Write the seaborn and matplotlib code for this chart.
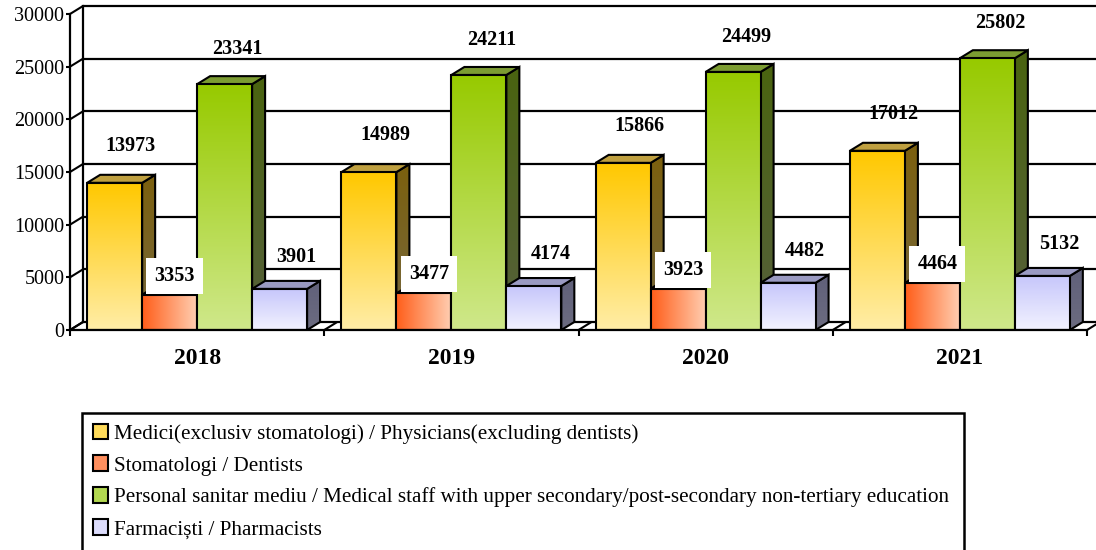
import numpy as np
import pandas as pd
import matplotlib
matplotlib.use("Agg")
import matplotlib.pyplot as plt
import matplotlib.colors as mcolors
from matplotlib.patches import Polygon, Patch, Rectangle
import seaborn as sns

# date
years = ["2018", "2019", "2020", "2021"]
series = [
    "Medici(exclusiv stomatologi) / Physicians(excluding dentists)",
    "Stomatologi / Dentists",
    "Personal sanitar mediu / Medical staff with upper secondary/post-secondary non-tertiary education",
    "Farmaciști / Pharmacists",
]
physicians = [13973, 14989, 15866, 17012]
dentists = [3353, 3477, 3923, 4464]
medical_staff = [23341, 24211, 24499, 25802]
pharmacists = [3901, 4174, 4482, 5132]
yticks = [0, 5000, 10000, 15000, 20000, 25000, 30000]

# stil pe serie: fata (sus, jos), directie gradient, lateral (sus, jos), capac
styles = [
    dict(front=("#FFC800", "#FFEDA6"), horiz=False, side=("#7C600E", "#76683F"),
         top="#BFA040", mid="#FFDB5A", lab=(16, 37), box=False),
    dict(front=("#FF5E1A", "#FFCDB0"), horiz=True, side=("#8A3A10", "#8A5A40"),
         top="#C8643A", mid="#FF8F5E", lab=(5, 19), box=True),
    dict(front=("#97CA00", "#CFE88A"), horiz=False, side=("#4A6410", "#56603C"),
         top="#7C9C32", mid="#B2D850", lab=(13, 35), box=False),
    dict(front=("#C6C6FB", "#F2F2FF"), horiz=False, side=("#60607A", "#6C6C80"),
         top="#9A9AC2", mid="#DCDCFC", lab=(17, 32), box=False),
]

values = [physicians, dentists, medical_staff, pharmacists]
df = pd.DataFrame({
    "year": np.repeat([years], len(series), axis=0).ravel(),
    "series": np.repeat(series, len(years)),
    "value": np.concatenate(values),
})

sns.set_style("white")
plt.rcParams["font.family"] = ["Liberation Serif", "DejaVu Serif"]
plt.rcParams["text.color"] = "black"
plt.rcParams["xtick.color"] = "black"
plt.rcParams["ytick.color"] = "black"

W, H = 1096, 550
DX, DY = 13, 8          # adancimea 3D in pixeli
X0, X1 = 70, 1087       # axa fata (pixeli)
Y0, Y1 = 330, 14

fig = plt.figure(figsize=(W / 100, H / 100), dpi=100)
ax_back = fig.add_axes([(X0 + DX) / W, (H - Y0 + DY) / H, (X1 - X0) / W, (Y0 - Y1) / H])
ax = fig.add_axes([X0 / W, (H - Y0) / H, (X1 - X0) / W, (Y0 - Y1) / H])
ax.patch.set_alpha(0)

# peretele din spate
ax_back.set_ylim(0, 30000)
ax_back.set_xlim(0, 1)
for t in yticks:
    ax_back.axhline(t, color="black", lw=1.6, clip_on=False)
ax_back.set_xticks([])
ax_back.set_yticks([])
for s in ["top", "right", "bottom"]:
    ax_back.spines[s].set_visible(False)
ax_back.spines["left"].set_linewidth(1.6)
ax_back.spines["left"].set_color("black")

sns.barplot(data=df, x="year", y="value", hue="series", hue_order=series,
            palette=[s["mid"] for s in styles], width=0.865, saturation=1,
            edgecolor="black", linewidth=1.5, legend=False, ax=ax, errorbar=None)

ax.set_xlim(-0.5, 3.5)
ax.set_ylim(0, 30000)
ux = DX * 4 / (X1 - X0)
uy = DY * 30000 / (Y0 - Y1)


def gradient(c_a, c_b, horiz):
    a = np.array(mcolors.to_rgb(c_a))
    b = np.array(mcolors.to_rgb(c_b))
    t = np.linspace(0, 1, 64)[:, None]
    g = a * (1 - t) + b * t
    return g[None, :, :] if horiz else g[:, None, :]


def fill(poly, colors, horiz, z):
    ax.add_patch(poly)
    xs, ys = poly.get_xy()[:, 0], poly.get_xy()[:, 1]
    if horiz:
        img = gradient(colors[0], colors[1], True)
    else:
        img = gradient(colors[1], colors[0], False)
    im = ax.imshow(img, extent=[xs.min(), xs.max(), ys.min(), ys.max()],
                   origin="lower", aspect="auto", interpolation="bilinear", zorder=z)
    im.set_clip_path(poly)


for si, st in enumerate(styles):
    for yi, bar in enumerate(ax.containers[si]):
        base = 2 + (yi * 4 + si) * 0.1
        xl, w, h = bar.get_x(), bar.get_width(), bar.get_height()
        xr = xl + w
        side = Polygon([(xr, 0), (xr, h), (xr + ux, h + uy), (xr + ux, uy)],
                       closed=True, facecolor="none", edgecolor="black", lw=1.5,
                       zorder=base + 0.01, joinstyle="miter")
        fill(side, st["side"], False, base)
        top = Polygon([(xl, h), (xr, h), (xr + ux, h + uy), (xl + ux, h + uy)],
                      closed=True, facecolor=st["top"], edgecolor="black", lw=1.5,
                      zorder=base + 0.01, joinstyle="miter")
        ax.add_patch(top)
        front = Polygon([(xl, 0), (xr, 0), (xr, h), (xl, h)], closed=True,
                        facecolor="none", edgecolor="none", zorder=base + 0.02)
        fill(front, st["front"], st["horiz"], base + 0.02)
        bar.set_facecolor("none")
        bar.set_zorder(base + 0.03)
        bar.set_joinstyle("miter")

        ax.annotate(f"{int(values[si][yi])}", xy=(xl + w / 2, h), xytext=st["lab"],
                    textcoords="offset pixels", ha="center", va="center",
                    fontsize=14.5, fontweight="bold", zorder=10,
                    bbox=dict(boxstyle="square,pad=0.4", fc="white", ec="none") if st["box"] else None)

ax.set_xlim(-0.5, 3.5)
ax.set_ylim(0, 30000)

# perete lateral si podea
for t in yticks:
    ax.plot([-0.5, -0.5 + ux], [t, t + uy], color="black", lw=1.5, clip_on=False, zorder=1.5)
for xb in [-0.5, 0.5, 1.5, 2.5, 3.5]:
    ax.plot([xb, xb + ux], [0, uy], color="black", lw=1.5, clip_on=False, zorder=1.5)

for s in ["top", "right"]:
    ax.spines[s].set_visible(False)
for s in ["left", "bottom"]:
    ax.spines[s].set_linewidth(1.6)
    ax.spines[s].set_color("black")
    ax.spines[s].set_zorder(20)

ax.set_yticks(yticks)
ax.set_yticklabels([str(t) for t in yticks], fontsize=14.5)
ax.tick_params(axis="y", direction="out", length=3, width=1.5, pad=1, left=True)
ax.set_xticks(range(4))
ax.set_xticklabels(years, fontsize=17, fontweight="bold")
ax.set_xticks([-0.5, 0.5, 1.5, 2.5, 3.5], minor=True)
ax.tick_params(axis="x", which="major", length=0, pad=13)
ax.tick_params(axis="x", which="minor", direction="out", length=4, width=1.5, bottom=True)
ax.set_xlabel("")
ax.set_ylabel("")

handles = [Patch(facecolor=s["mid"], edgecolor="black", lw=1.5) for s in styles]
leg = fig.legend(handles, series, loc="upper left",
                 bbox_to_anchor=(82 / W, 1 - 413 / H, (964 - 82) / W, 0),
                 mode="expand", fontsize=15.2, fancybox=False, framealpha=0,
                 borderaxespad=0, handlelength=0.75,
                 handleheight=0.75, handletextpad=0.25, labelspacing=0.56,
                 borderpad=0.5)
leg.get_frame().set_visible(False)
# chenarul legendei continua sub marginea imaginii
fig.patches.append(Rectangle((82 / W, -0.05), (964 - 82) / W, 1 - 413 / H + 0.05,
                             transform=fig.transFigure, fill=False,
                             edgecolor="black", lw=1.8, zorder=0))

fig.savefig("out.png", dpi=100)
